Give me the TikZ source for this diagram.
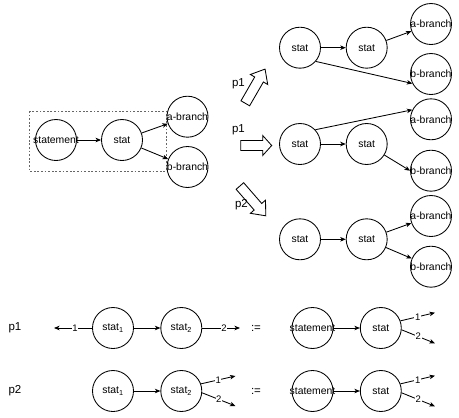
\documentclass[tikz,border=0pt]{standalone}
\usepackage{fontspec}
\setmainfont{Liberation Sans}
\usetikzlibrary{arrows.meta,backgrounds}
\newcommand\mytxt[1]{\makebox[0pt]{#1}}
\begin{document}
\begin{tikzpicture}[x=1pt,y=-1pt,
  circ/.style={draw, circle, minimum size=41pt, inner sep=0pt, line width=0.85pt, font=\fontsize{10.4}{12}\selectfont},
  arr/.style={-{Stealth[length=5.5pt,width=4.5pt,inset=1.5pt]}, line width=0.85pt},
  lbl/.style={font=\fontsize{9.5}{11}\selectfont, fill=white, inner sep=0.6pt},
  plabel/.style={font=\fontsize{11.5}{13}\selectfont, inner sep=0pt},
  blockarrow/.style={draw, line width=0.85pt, fill=white, line join=miter},
  groupbox/.style={draw=black!60, line width=0.6pt, dash pattern=on 1.8pt off 1.8pt}
]
\useasboundingbox (0,0) rectangle (459,418);

% ---------- nodes ----------
\node[circ] (A1) at (56,140) {\mytxt{statement}};
\node[circ] (A2) at (122,140) {\mytxt{stat}};
\node[circ] (A3) at (187.5,116.7) {\mytxt{a-branch}};
\node[circ] (A4) at (187.5,167) {\mytxt{b-branch}};

\node[circ] (B1) at (300,47.7) {\mytxt{stat}};
\node[circ] (B2) at (366.7,47.7) {\mytxt{stat}};
\node[circ] (B3) at (431,24) {\mytxt{a-branch}};
\node[circ] (B4) at (431,74) {\mytxt{b-branch}};

\node[circ] (C1) at (300,144) {\mytxt{stat}};
\node[circ] (C2) at (366.7,144) {\mytxt{stat}};
\node[circ] (C3) at (431,119.3) {\mytxt{a-branch}};
\node[circ] (C4) at (431,170.7) {\mytxt{b-branch}};

\node[circ] (D1) at (300,239.3) {\mytxt{stat}};
\node[circ] (D2) at (366.7,239.3) {\mytxt{stat}};
\node[circ] (D3) at (431,216) {\mytxt{a-branch}};
\node[circ] (D4) at (431,266.7) {\mytxt{b-branch}};

\node[plabel] (L1) at (15,328) {p1};
\node[circ] (E1) at (113,328) {\mytxt{stat\textsubscript{1}}};
\node[circ] (E2) at (181.3,328) {\mytxt{stat\textsubscript{2}}};
\coordinate (e0) at (54,328);
\coordinate (e3) at (240,328);
\node[plabel] (Q1) at (256,328) {:=};
\node[circ] (F1) at (312.5,328) {\mytxt{statement}};
\node[circ] (F2) at (380.8,328) {\mytxt{stat}};
\coordinate (f3) at (435,312.7);
\coordinate (f4) at (435,343.3);

\node[plabel] (L2) at (15,391) {p2};
\node[circ] (G1) at (113,391) {\mytxt{stat\textsubscript{1}}};
\node[circ] (G2) at (181.3,391) {\mytxt{stat\textsubscript{2}}};
\coordinate (g3) at (235.5,376);
\coordinate (g4) at (235.5,406);
\node[plabel] (Q2) at (256,391) {:=};
\node[circ] (H1) at (312.5,391) {\mytxt{statement}};
\node[circ] (H2) at (380.8,391) {\mytxt{stat}};
\coordinate (h3) at (435,375.7);
\coordinate (h4) at (435,406.3);

% ---------- block arrows ----------
\draw[blockarrow, shift={(245.3,103.3)}, rotate=60]
  (0,-5) -- (27.5,-5) -- (27.5,-10) -- (39.5,0) -- (27.5,10) -- (27.5,5) -- (0,5) -- cycle;
\draw[blockarrow, shift={(240.7,145.5)}]
  (0,-5) -- (22,-5) -- (22,-10) -- (31,0) -- (22,10) -- (22,5) -- (0,5) -- cycle;
\draw[blockarrow, shift={(239.9,186)}, rotate=-49]
  (0,-5) -- (27.5,-5) -- (27.5,-10) -- (39.5,0) -- (27.5,10) -- (27.5,5) -- (0,5) -- cycle;
\node[plabel] (P1a) at (238.5,84) {p1};
\node[plabel] (P1b) at (238.5,130) {p1};
\node[plabel] (P2a) at (241.5,205) {p2};

% ---------- connectors (behind the node texts) ----------
\begin{scope}[on background layer]
\draw[groupbox] (29,111) rectangle (166,171);
\draw[arr] (A1) -- (A2);
\draw[arr] (A2) -- (A3);
\draw[arr] (A2) -- (A4);

\draw[arr] (B1) -- (B2);
\draw[arr] (B2) -- (B3);
\draw[arr] (B1.-41) -- (B4.207);

\draw[arr] (C1) -- (C2);
\draw[arr] (C1.43) -- (C3.153);
\draw[arr] (C2.-32) -- (C4.west);

\draw[arr] (D1) -- (D2);
\draw[arr] (D2) -- (D3);
\draw[arr] (D2) -- (D4);

\draw[arr] (E1) -- (E2);
\draw[arr] (E1.west) -- node[lbl, pos=0.45] {1} (e0);
\draw[arr] (E2.east) -- node[lbl, pos=0.58] {2} (e3);
\draw[arr] (F1) -- (F2);
\draw[arr] (F2.20) -- node[lbl] {1} (f3);
\draw[arr] (F2.-5) -- node[lbl] {2} (f4);

\draw[arr] (G1) -- (G2);
\draw[arr] (G2.20) -- node[lbl] {1} (g3);
\draw[arr] (G2.-5) -- node[lbl] {2} (g4);
\draw[arr] (H1) -- (H2);
\draw[arr] (H2.20) -- node[lbl] {1} (h3);
\draw[arr] (H2.-5) -- node[lbl] {2} (h4);
\end{scope}
\end{tikzpicture}
\end{document}
